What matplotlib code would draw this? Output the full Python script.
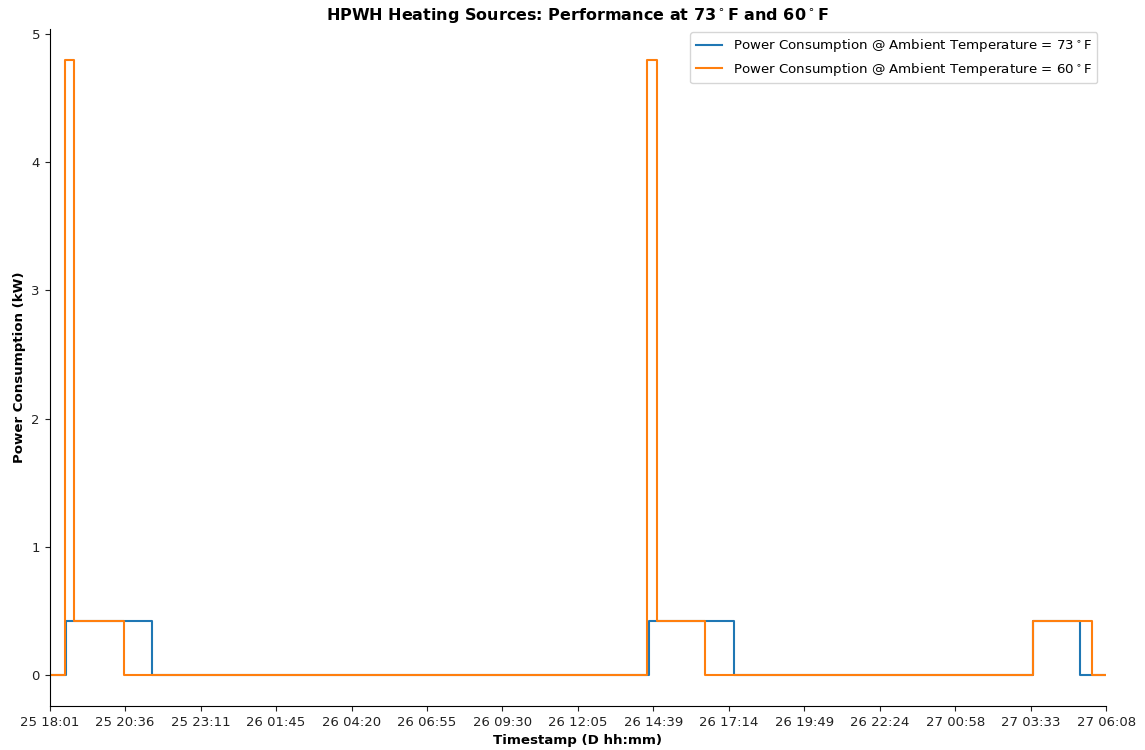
import matplotlib
matplotlib.use("Agg")
import matplotlib.pyplot as plt
import numpy as np

# minutes since 25 18:01
t73 = [0, 34, 209, 1229, 1403, 2017, 2114, 2167]
p73 = [0.0, 0.42, 0.0, 0.42, 0.0, 0.42, 0.0, 0.0]

t60 = [0, 32, 50, 152.5, 1225, 1245.5, 1345, 2017, 2138.5, 2167]
p60 = [0.0, 4.8, 0.42, 0.0, 4.8, 0.42, 0.0, 0.42, 0.0, 0.0]

tick_labels = ["25 18:01", "25 20:36", "25 23:11", "26 01:45", "26 04:20",
               "26 06:55", "26 09:30", "26 12:05", "26 14:39", "26 17:14",
               "26 19:49", "26 22:24", "27 00:58", "27 03:33", "27 06:08"]
t_end = 2167

fig = plt.figure(figsize=(11.45, 7.5), dpi=100)
ax = fig.add_axes([0.0434, 0.0587, 0.9226, 0.903])

ax.step(t73, p73, where="post", color="#1f77b4", lw=1.5,
        label="Power Consumption @ Ambient Temperature = 73$^\\circ$F")
ax.step(t60, p60, where="post", color="#ff7f0e", lw=1.5,
        label="Power Consumption @ Ambient Temperature = 60$^\\circ$F")

ax.set_xlim(0, t_end)
ax.set_ylim(-0.24, 5.04)
ax.set_xticks(np.linspace(0, t_end, len(tick_labels)))
ax.set_xticklabels(tick_labels)
ax.set_yticks([0, 1, 2, 3, 4, 5])
ax.tick_params(labelsize=9.5, colors="#222222")
for s in ["top", "right"]:
    ax.spines[s].set_visible(False)

ax.set_xlabel("Timestamp (D hh:mm)", fontweight="bold", fontsize=9.6, labelpad=4)
ax.set_ylabel("Power Consumption (kW)", fontweight="bold", fontsize=9.6)
ax.set_title("HPWH Heating Sources: Performance at 73$^\\circ$F and 60$^\\circ$F",
             fontweight="bold", fontsize=11.5)
ax.legend(loc="upper right", fontsize=9.6, bbox_to_anchor=(0.998, 1.005))

fig.savefig("out.png", dpi=100)
